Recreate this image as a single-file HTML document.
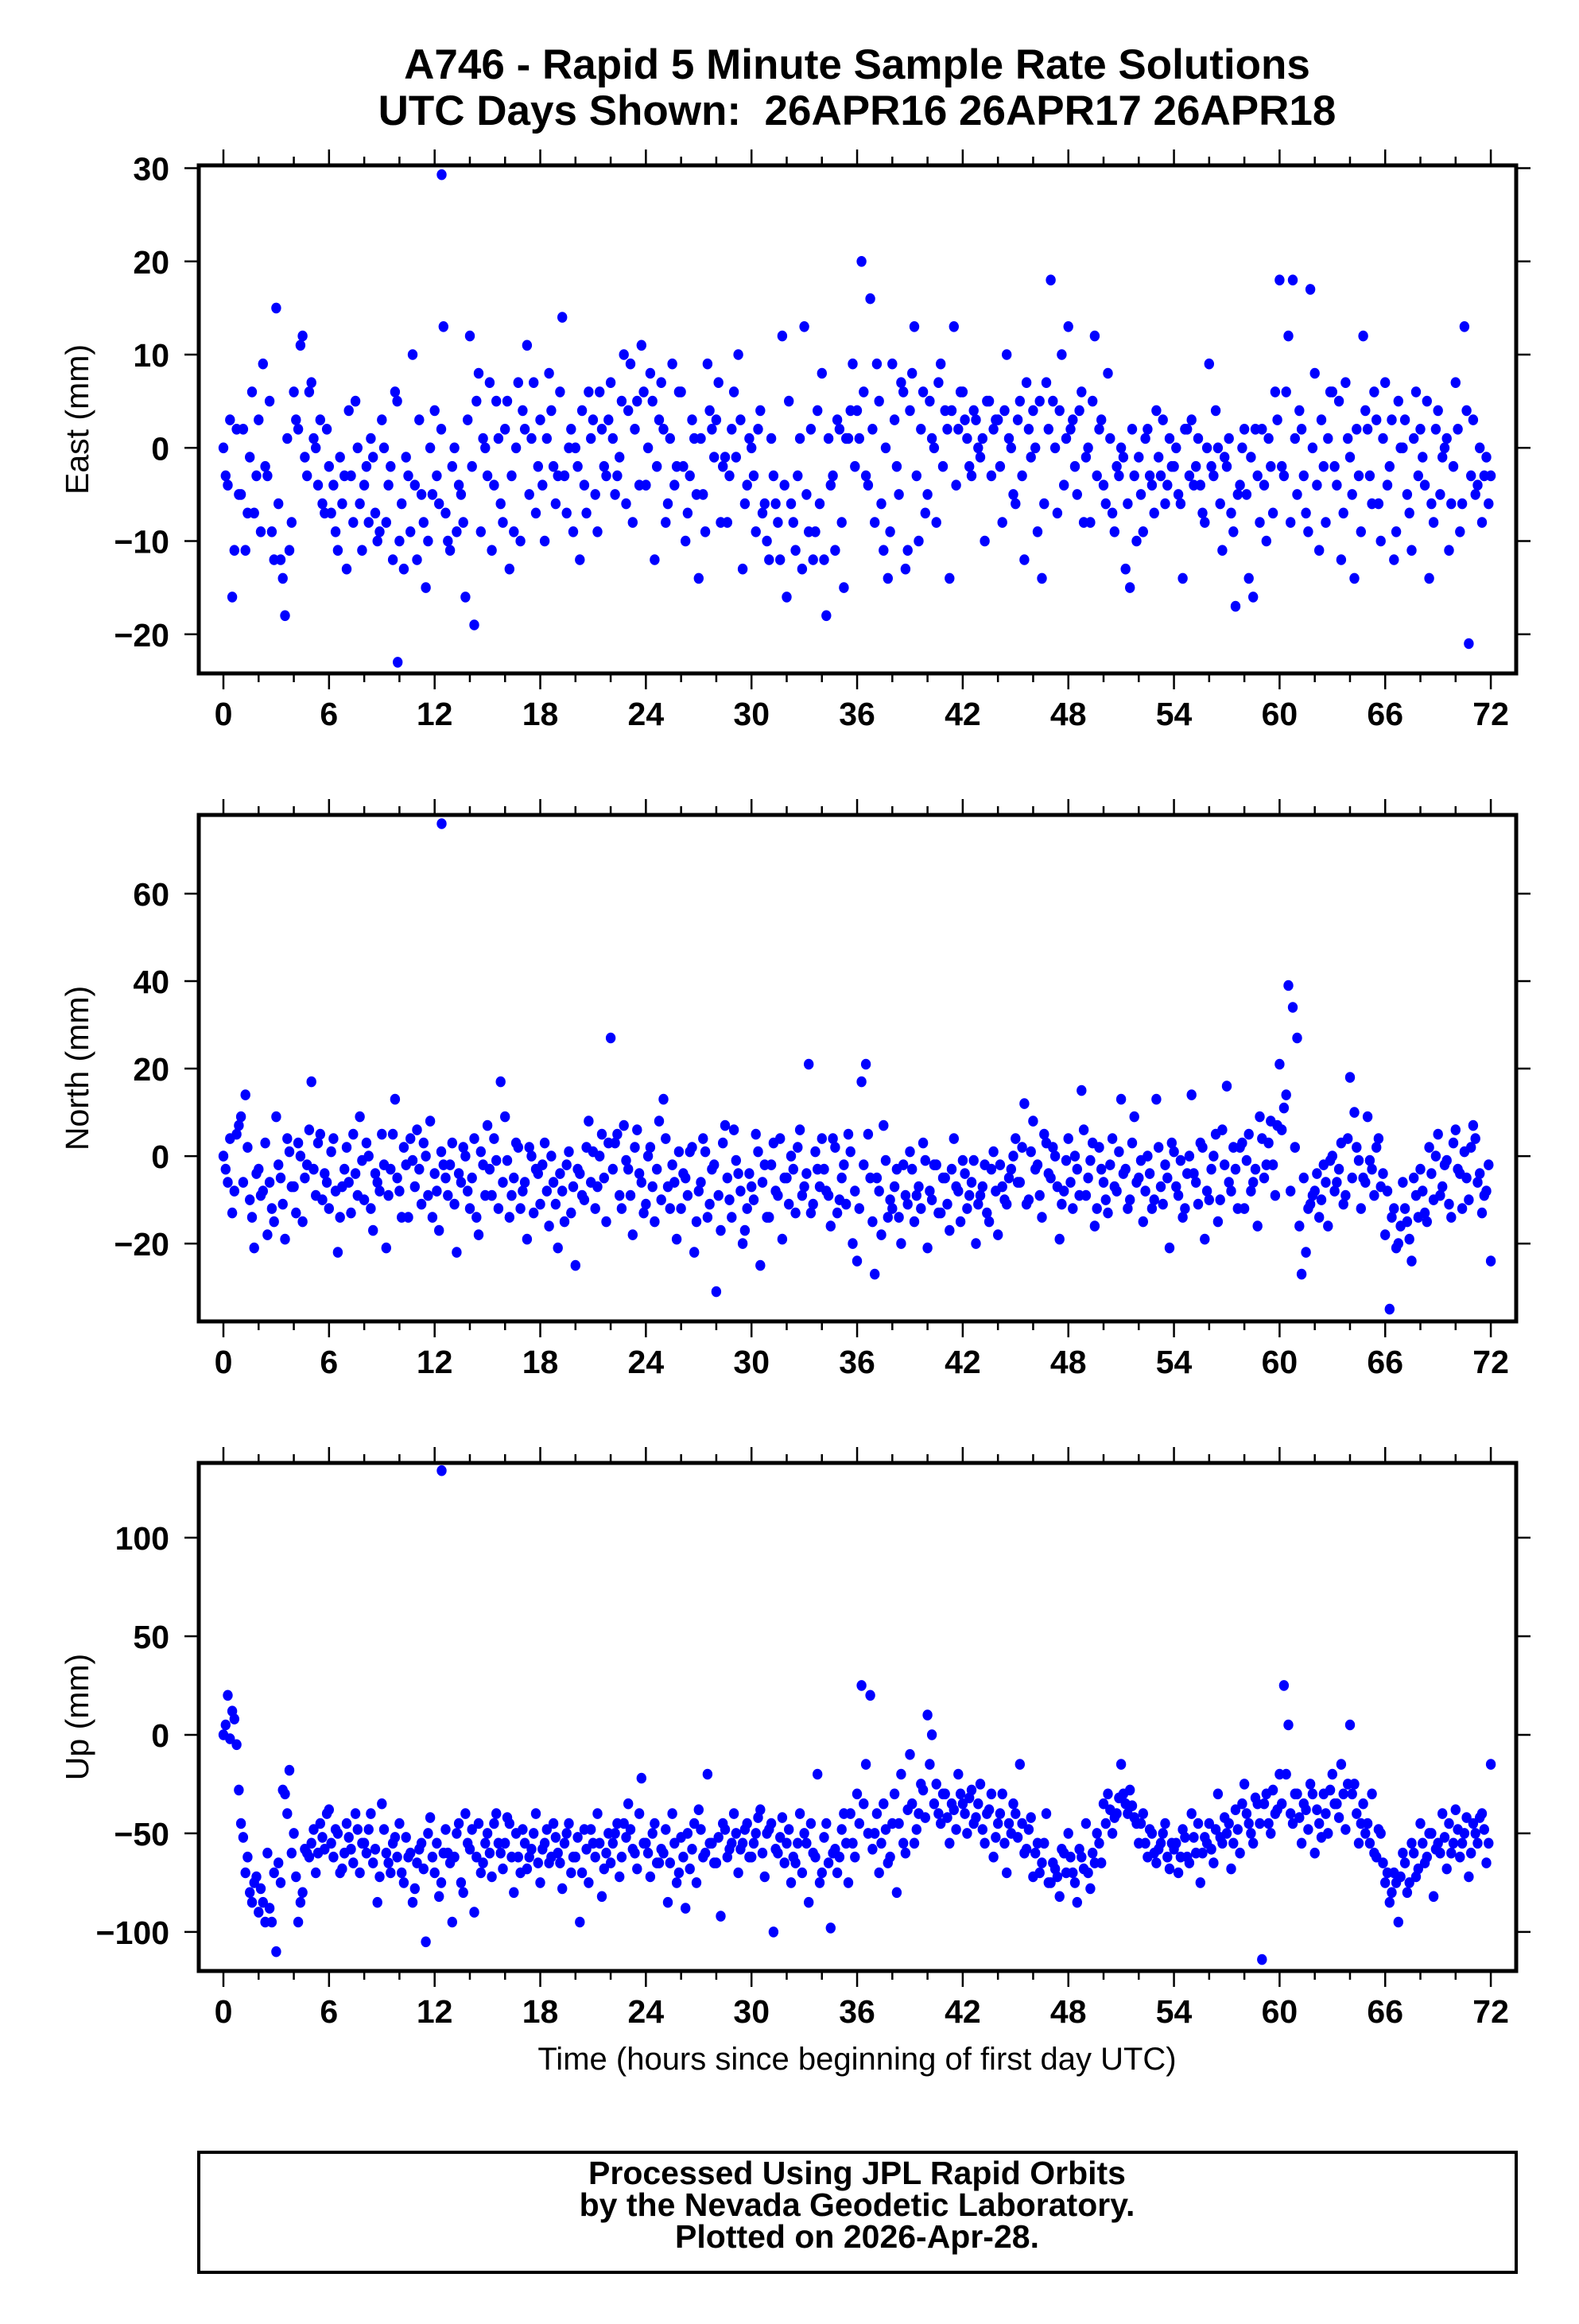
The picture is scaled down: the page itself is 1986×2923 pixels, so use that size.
<!DOCTYPE html>
<html><head><meta charset="utf-8"><title>A746 Rapid 5 Minute Solutions</title>
<style>
html,body{margin:0;padding:0;background:#fff;}
svg{display:block;font-family:"Liberation Sans",Arial,sans-serif;}
</style></head>
<body>
<svg id="chart" width="1986" height="2923" viewBox="0 0 1986 2923" xmlns="http://www.w3.org/2000/svg">
<rect width="1986" height="2923" fill="#fff"/>
<text x="1078" y="99" text-anchor="middle" font-size="53" font-weight="bold">A746 - Rapid 5 Minute Sample Rate Solutions</text>
<text x="1078" y="157" text-anchor="middle" font-size="53" font-weight="bold" xml:space="preserve">UTC Days Shown:  26APR16 26APR17 26APR18</text>
<text x="1078" y="2603" text-anchor="middle" font-size="40">Time (hours since beginning of first day UTC)</text>
<rect x="250" y="2707" width="1657" height="151" fill="none" stroke="#000" stroke-width="4"/>
<text x="1078" y="2747" text-anchor="middle" font-size="41" font-weight="bold">Processed Using JPL Rapid Orbits</text>
<text x="1078" y="2787" text-anchor="middle" font-size="41" font-weight="bold">by the Nevada Geodetic Laboratory.</text>
<text x="1078" y="2827" text-anchor="middle" font-size="41" font-weight="bold">Plotted on 2026-Apr-28.</text>
</svg>
<script>
// ---- data (values in mm, sampled every 0.25 h; second set offset by 0.125 h) ----
const sampleStepHours = 0.25;
const offsetHoursB = 0.125;
const xTickLabels = [0,6,12,18,24,30,36,42,48,54,60,66,72];
const eastTicks = [-20,-10,0,10,20,30];
const northTicks = [-20,0,20,40,60];
const upTicks = [-100,-50,0,50,100];
const eastValues = [0,-4,-16,2,-5,-11,-1,-7,3,9,-3,-9,15,-12,-18,-11,6,2,12,-3,7,0,3,-7,-2,-4,-11,-6,-13,-3,5,-6,-4,-8,-1,-10,3,-8,-2,6,-10,-13,-3,10,-12,-5,-15,0,4,-6,13,-10,-2,-9,-5,-16,12,-19,8,1,-3,-11,5,-6,2,-13,-9,7,4,11,1,-7,3,-10,8,-2,-3,14,-7,2,0,-12,-4,6,3,-9,2,-3,7,-5,-1,10,4,-8,5,11,-4,8,-12,3,2,-6,9,-2,6,-10,-3,1,-14,-5,9,2,3,-8,-1,-3,6,10,-13,-4,0,-9,4,-6,-12,-3,-8,12,-16,-6,-11,1,13,-9,-12,4,8,-18,-4,-11,2,-15,1,9,4,20,-3,16,-8,5,-11,-14,9,-2,7,-13,4,13,-10,6,-5,1,-8,9,4,-14,13,2,6,1,-3,3,-1,-10,5,2,3,-8,10,0,-6,5,-12,2,4,-9,-14,7,18,0,4,-4,13,3,-5,6,-1,-8,12,2,-4,8,-7,-2,0,-13,-15,-3,-1,-9,2,-4,4,-3,-6,1,-2,-5,-14,2,3,-2,-4,-8,9,-3,0,-11,-2,-7,-17,-4,2,-14,-16,-3,2,-10,-2,6,18,-3,12,18,-5,2,-7,17,8,-11,-2,1,6,-4,-12,7,-1,-14,-3,12,2,-6,3,-10,7,-2,-12,5,0,-5,-11,6,2,-4,-14,-8,4,-1,1,-6,7,-9,13,-21,3,-4,-8,-1,-3];
const eastValuesB = [-3,3,-11,-5,2,-7,6,-3,-9,-2,5,-12,-6,-14,1,-8,3,11,-1,6,1,-4,-6,2,-7,-9,-1,-3,4,-8,0,-11,-2,1,-7,-9,0,-4,-12,5,-6,-1,-9,-4,3,-8,-10,-5,-3,2,-7,-11,0,-4,-8,3,-2,5,-9,0,7,-4,1,-8,5,-3,0,-10,2,-5,7,-2,-4,1,4,-6,6,-3,0,-9,-2,4,-7,1,-5,6,-2,3,1,-3,5,-6,9,2,-4,6,0,5,-2,7,-8,1,-4,6,-2,-7,3,-5,1,-9,4,-1,7,-2,-8,2,-1,3,-6,1,-3,2,-7,-10,1,-6,-12,-4,5,-8,-3,-13,-5,2,-9,-6,-12,1,-3,3,-8,1,4,-2,1,6,-4,2,9,-6,0,-9,3,-5,6,-11,8,-3,2,-7,5,0,7,-2,2,4,-4,6,3,-2,4,0,1,5,-3,3,-2,4,1,-5,3,-3,7,-1,0,5,-6,2,5,-7,10,1,2,-2,4,-8,0,5,-3,3,-6,1,-9,-3,-1,-6,2,-10,-5,1,-3,-7,-1,3,-4,-2,0,-6,2,-3,-4,1,-7,0,-2,4,-6,-1,1,-9,-5,0,-5,-1,2,-8,-4,1,-7,3,-2,6,-8,1,4,-3,-9,0,-4,3,-8,6,-2,5,-7,1,-5,2,-9,4,-3,6,-6,1,-4,3,-9,0,3,-7,1,-3,-1,5,-6,2,-5,0,-11,-2,2,-6,4,-3,-5,0,-3,-6];
const eastExtraHours = [12.4,9.9];
const eastExtraValues = [29.3,-23];
const northValues = [0,-6,-13,5,9,14,-10,-21,-3,-8,-18,-12,9,-5,-19,1,-7,3,-15,-2,17,-9,5,-4,-12,4,-22,-7,2,-13,-4,9,-10,0,-17,-6,5,-21,-3,13,-8,2,-14,-1,6,-11,0,8,-4,-17,-2,-9,3,-22,-6,0,-12,4,-18,-2,7,-9,-1,17,9,-14,-5,2,-8,-19,0,-3,-11,3,-16,-6,-21,-8,-2,-13,-25,-4,-10,8,1,-7,5,-15,27,3,-9,7,-3,-18,6,-6,-11,2,-15,8,13,-7,-2,-19,-12,-5,1,-22,-8,4,-14,-3,-31,-17,7,-10,6,-4,-20,-12,-7,5,-25,-2,-14,3,-9,-19,-5,0,-13,6,-7,21,-11,-3,4,-8,-16,2,-10,-2,5,-20,-24,17,21,-5,-27,-8,7,-14,-12,-3,-20,-9,1,-15,-7,3,-21,-10,-2,-13,-5,-17,4,-8,-1,-12,-6,-20,-9,-2,-15,1,-18,-7,-11,-3,4,-6,12,-10,8,-2,-14,3,-5,0,-19,-8,4,-12,-3,15,-9,-1,-16,2,-6,-13,4,-8,13,-3,-10,9,-5,-15,0,-12,13,-7,-2,-21,1,-9,-14,-4,14,-6,3,-19,-10,0,-15,6,16,-8,-3,2,-12,5,-6,-16,4,-2,8,-9,21,11,39,34,27,-27,-22,-11,-8,-14,-2,-16,0,-6,3,-9,18,10,-1,-5,9,-3,2,-7,-18,-35,-12,-20,-6,-15,-24,-9,-3,-13,2,-10,5,-7,-1,-14,6,-4,1,-10,7,-6,-13,-8,-24];
const northValuesB = [-3,4,-8,7,-6,2,-14,-4,-9,3,-6,-15,-2,-11,4,-7,-13,0,-5,6,-3,3,-10,-6,1,-8,-14,-3,-6,5,-9,-1,3,-12,-4,-8,-2,-9,5,-5,-14,-2,4,-7,-3,3,-9,-14,-8,1,-5,-2,-11,-4,2,-8,-5,-14,1,-9,-3,4,-12,-6,-1,-9,3,-12,-6,2,-13,-4,-2,-8,0,-11,-4,-15,1,-7,-3,-9,2,-6,-12,0,-5,3,-3,5,-12,-1,-9,2,-4,-13,0,-7,-3,-10,4,-12,-6,1,-4,-9,2,-15,-6,1,-11,-2,-9,3,-5,-14,-1,-8,-17,-4,-10,1,-6,-14,-2,-8,4,-5,-11,-3,2,-9,-4,-13,1,-7,-3,-9,4,-13,-5,-11,1,-8,-12,-2,5,-15,-5,-18,-1,-10,-7,-14,-2,-11,-3,-9,-12,-1,-8,-2,-13,-5,-11,-3,-7,-15,-4,-9,-1,-11,-7,-13,-3,-8,-2,-10,-5,0,-6,2,-11,1,-3,-9,5,-4,2,-7,-11,-1,-6,0,-9,6,-5,3,-12,-3,-10,-2,-7,1,-4,-12,3,-6,-1,-8,-4,-10,2,-11,-5,3,-7,-1,-12,0,-4,-11,2,-8,-3,5,-10,-2,-6,2,-12,3,-1,-8,-3,9,-5,3,-2,7,6,14,-8,2,-16,-5,-12,-9,-4,-10,-6,-1,-8,-3,-11,4,-5,2,-12,-6,-1,-9,4,-4,-8,-14,-21,-16,-12,-19,-5,-14,-8,-15,-4,0,-9,-2,-11,3,-3,-12,-5,2,4,-4,-9,-2];
const northExtraHours = [12.4];
const northExtraValues = [76];
const upValues = [0,20,12,-5,-45,-70,-80,-75,-90,-85,-60,-95,-110,-75,-30,-18,-50,-95,-80,-60,-55,-70,-45,-58,-38,-62,-50,-68,-45,-58,-40,-70,-55,-48,-65,-85,-35,-60,-70,-52,-45,-75,-62,-85,-65,-55,-105,-42,-70,-82,-60,-60,-95,-50,-75,-40,-58,-90,-45,-65,-50,-72,-40,-60,-55,-45,-80,-62,-48,-68,-58,-40,-75,-55,-65,-45,-60,-78,-50,-70,-62,-95,-48,-75,-55,-40,-82,-60,-65,-50,-72,-45,-35,-58,-68,-22,-55,-72,-45,-65,-60,-85,-40,-75,-52,-88,-68,-45,-38,-62,-20,-55,-65,-92,-48,-58,-40,-70,-55,-45,-62,-50,-38,-72,-48,-100,-60,-42,-55,-75,-65,-40,-50,-85,-60,-20,-70,-45,-98,-58,-62,-40,-75,-55,-30,25,-15,20,-50,-70,-35,-65,-45,-80,-20,-60,-10,-55,-40,-28,10,0,-25,-45,-30,-55,-38,-20,-35,-50,-28,-42,-25,-55,-38,-62,-45,-30,-70,-50,-40,-15,-60,-48,-72,-55,-65,-40,-75,-68,-82,-60,-50,-70,-85,-62,-45,-78,-65,-55,-35,-30,-50,-40,-15,-35,-28,-42,-55,-40,-62,-50,-65,-55,-45,-68,-58,-70,-48,-62,-40,-60,-75,-52,-45,-65,-30,-55,-50,-68,-38,-60,-25,-45,-55,-35,-114,-30,-50,-40,-20,25,5,-45,-30,-55,-38,-25,-60,-45,-30,-50,-20,-35,-15,-48,5,-25,-55,-35,-45,-30,-62,-50,-75,-85,-70,-95,-60,-80,-55,-72,-45,-65,-50,-82,-55,-40,-68,-60,-38,-62,-50,-72,-45,-55,-40,-65,-15];
const upValuesB = [5,-2,8,-28,-52,-62,-85,-72,-78,-95,-88,-70,-65,-28,-40,-60,-72,-85,-58,-62,-48,-60,-52,-40,-55,-48,-70,-60,-52,-65,-48,-55,-60,-40,-58,-72,-48,-65,-55,-62,-70,-52,-60,-78,-58,-68,-50,-62,-55,-75,-48,-65,-62,-45,-80,-55,-48,-62,-70,-55,-60,-45,-55,-68,-42,-62,-50,-70,-55,-62,-50,-65,-58,-48,-62,-52,-65,-55,-45,-62,-52,-70,-58,-48,-62,-55,-68,-50,-55,-45,-62,-52,-48,-60,-40,-55,-60,-50,-65,-58,-48,-65,-55,-70,-62,-50,-58,-75,-48,-60,-55,-65,-52,-45,-62,-55,-50,-58,-48,-62,-55,-42,-60,-50,-45,-58,-52,-65,-48,-62,-55,-70,-55,-45,-62,-75,-52,-65,-60,-70,-48,-55,-40,-62,-45,-35,-50,-58,-40,-55,-48,-62,-30,-45,-55,-38,-35,-48,-25,-42,-15,-35,-40,-30,-42,-35,-48,-30,-40,-32,-45,-35,-48,-40,-30,-52,-40,-55,-45,-35,-52,-45,-58,-42,-60,-70,-55,-75,-65,-72,-58,-70,-62,-75,-58,-68,-70,-60,-50,-65,-45,-38,-42,-32,-30,-40,-36,-45,-45,-55,-48,-60,-58,-50,-62,-55,-55,-62,-52,-65,-52,-45,-60,-55,-58,-48,-52,-42,-45,-55,-48,-35,-40,-50,-32,-45,-35,-45,-28,-38,-35,-20,-40,-30,-42,-35,-48,-30,-38,-52,-40,-28,-35,-42,-30,-25,-30,-40,-45,-50,-55,-60,-48,-65,-70,-80,-75,-72,-65,-75,-60,-68,-55,-62,-50,-58,-60,-52,-45,-55,-48,-55,-42,-60,-50,-42,-48,-55];
const upExtraHours = [12.4];
const upExtraValues = [134];

// ---- layout ----
const NS = "http://www.w3.org/2000/svg";
const svg = document.getElementById("chart");
const LEFT = 250, RIGHT = 1907;
const X0 = 281, XPH = 22.14;
function xScale(h){ return X0 + h * XPH; }
function mk(tag, attrs){ const e = document.createElementNS(NS, tag); for (const k in attrs) e.setAttribute(k, attrs[k]); return e; }

const panels = [
  {key:"east", title:"East (mm)", top:208, bottom:847, dmin:-24.2, dmax:30.3, ticks:eastTicks, vals:eastValues, valsB:eastValuesB, exH:eastExtraHours, exV:eastExtraValues},
  {key:"north", title:"North (mm)", top:1025, bottom:1662, dmin:-37.8, dmax:78, ticks:northTicks, vals:northValues, valsB:northValuesB, exH:northExtraHours, exV:northExtraValues},
  {key:"up", title:"Up (mm)", top:1840, bottom:2479, dmin:-119.8, dmax:137.9, ticks:upTicks, vals:upValues, valsB:upValuesB, exH:upExtraHours, exV:upExtraValues}
];

panels.forEach(p => {
  const g = mk("g", {});
  
  
  svg.appendChild(g);
  const yScale = v => p.bottom - (v - p.dmin) / (p.dmax - p.dmin) * (p.bottom - p.top);

  const pts = mk("g", {fill:"#0000ff"});
  
  
  g.appendChild(pts);
  function dot(h, v, nm){
    const c = mk("ellipse", {cx: xScale(h).toFixed(1), cy: yScale(v).toFixed(1), rx: 6.2, ry: 6.8});
    
    
    pts.appendChild(c);
  }
  p.vals.forEach((v, i) => dot(i * sampleStepHours, v, p.key + '-point'));
  p.valsB.forEach((v, i) => dot(i * sampleStepHours + offsetHoursB, v, p.key + '-point'));
  p.exH.forEach((h, i) => dot(h, p.exV[i], p.key + '-outlier-point'));

  const fr = mk("rect", {x: LEFT, y: p.top, width: RIGHT - LEFT, height: p.bottom - p.top, fill: "none", stroke: "#000", "stroke-width": 5});
  
  
  g.appendChild(fr);

  const xt = mk("g", {stroke: "#000", "stroke-width": 2.5});
  
  
  g.appendChild(xt);
  for (let h = 0; h <= 72; h += 2) {
    const len = (h % 6 === 0) ? 18 : 9;
    const x = xScale(h);
    xt.appendChild(mk("line", {x1: x, x2: x, y1: p.top - 2, y2: p.top - 2 - len}));
    xt.appendChild(mk("line", {x1: x, x2: x, y1: p.bottom + 2, y2: p.bottom + 2 + len}));
  }
  xTickLabels.forEach(h => {
    const t = mk("text", {x: xScale(h), y: p.bottom + 65, "text-anchor": "middle", "font-size": 41, "font-weight": "bold"});
    t.textContent = h;
    
    
    g.appendChild(t);
  });

  p.ticks.forEach(v => {
    const y = yScale(v);
    const l1 = mk("line", {x1: LEFT - 18, x2: LEFT, y1: y, y2: y, stroke: "#000", "stroke-width": 2.5});
    
    
    g.appendChild(l1);
    const l2 = mk("line", {x1: RIGHT, x2: RIGHT + 18, y1: y, y2: y, stroke: "#000", "stroke-width": 2.5});
    
    
    g.appendChild(l2);
    const t = mk("text", {x: 213, y: y + 15, "text-anchor": "end", "font-size": 41, "font-weight": "bold"});
    t.textContent = v < 0 ? "\u2212" + Math.abs(v) : String(v);
    
    
    g.appendChild(t);
  });

  const cy = (p.top + p.bottom) / 2;
  const yt = mk("text", {x: 100, y: cy, "text-anchor": "middle", "font-size": 41, transform: "rotate(-90 100 " + cy + ")", "dominant-baseline": "middle"});
  yt.textContent = p.title;
  
  
  g.appendChild(yt);
});
</script>
</body></html>
